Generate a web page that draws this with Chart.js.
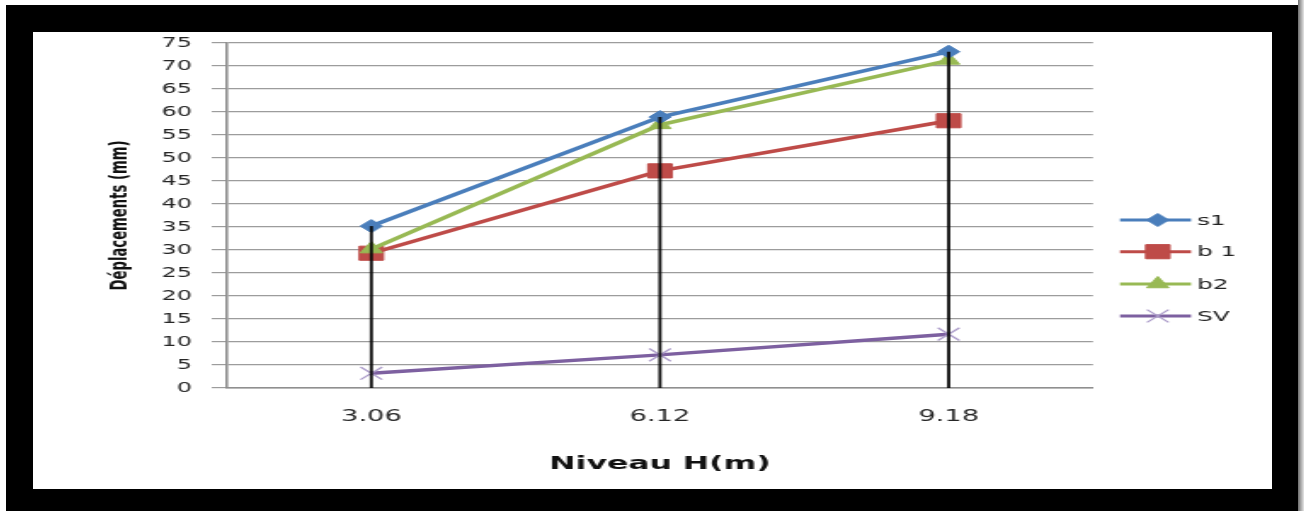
<!DOCTYPE html>
<html>
<head>
<meta charset="utf-8">
<script src="https://cdn.jsdelivr.net/npm/chart.js@4.4.1/dist/chart.umd.min.js"></script>
<style>
  html, body { margin: 0; padding: 0; background: #fff; width: 1304px; height: 511px; overflow: hidden; }
  #frame { position: absolute; left: 6px; top: 5px; width: 1292px; height: 506px; background: #000; }
  #edge { position: absolute; left: 1298px; top: 0; width: 6px; height: 511px; background: linear-gradient(to right, #6e6e6e, #e6e6e6); }
  #panel { position: absolute; left: 33px; top: 32px; width: 1239px; height: 457px; background: #fff; overflow: hidden; }
  #stretch { position: absolute; left: 0; top: 0; width: 728px; height: 457px; transform-origin: 0 0; transform: scaleX(1.70192); }
</style>
</head>
<body>
<div id="frame"></div>
<div id="edge"></div>
<div id="panel"><div id="stretch"><canvas id="c" width="728" height="457"></canvas></div></div>
<script>
// Storey levels (m) and lateral displacements (mm) per structural variant
const categories = ['3.06', '6.12', '9.18'];
const s1 = [35.2, 58.9, 73.1];
const b1 = [29.3, 47.2, 58.1];
const b2 = [30.2, 57.2, 71.2];
const sv = [3.2, 7.2, 11.7];
const seriesNames = ['s1', 'b 1', 'b2', 'SV'];
const yMin = 0, yMax = 75, yStep = 5;
const xTitle = 'Niveau H(m)';
const yTitle = 'Déplacements (mm)';

const BLUE = '#4a7ebb', RED = '#be4b48', GREEN = '#98b954', PURPLE = '#7d60a0';
const FAMILY = '"DejaVu Sans", "Liberation Sans", sans-serif';

// Size the vertical axis title so it runs 150px along the axis
function fitFontSize(text, weight, targetLen) {
  const m = document.createElement('canvas').getContext('2d');
  m.font = weight + ' 20px ' + FAMILY;
  return 20 * targetLen / m.measureText(text).width;
}
const yTitleSize = fitFontSize(yTitle, 'bold', 150);

// Marker shapes drawn the same way in the legend
function drawMarker(ctx, style, x, y, r, fill, stroke, bw) {
  ctx.save();
  ctx.fillStyle = fill; ctx.strokeStyle = stroke; ctx.lineWidth = bw;
  ctx.beginPath();
  if (style === 'rectRot') {
    ctx.moveTo(x - r, y); ctx.lineTo(x, y - r); ctx.lineTo(x + r, y); ctx.lineTo(x, y + r); ctx.closePath();
    ctx.fill(); ctx.stroke();
  } else if (style === 'rect') {
    const s = Math.SQRT1_2 * r;
    ctx.rect(x - s, y - s, 2 * s, 2 * s);
    ctx.fill(); ctx.stroke();
  } else if (style === 'triangle') {
    ctx.moveTo(x, y - r);
    ctx.lineTo(x + r * Math.sin(2 * Math.PI / 3), y - r * Math.cos(2 * Math.PI / 3));
    ctx.lineTo(x + r * Math.sin(4 * Math.PI / 3), y - r * Math.cos(4 * Math.PI / 3));
    ctx.closePath();
    ctx.fill(); ctx.stroke();
  } else if (style === 'crossRot') {
    const o = Math.SQRT1_2 * r;
    ctx.moveTo(x - o, y - o); ctx.lineTo(x + o, y + o);
    ctx.moveTo(x - o, y + o); ctx.lineTo(x + o, y - o);
    ctx.stroke();
  }
  ctx.restore();
}

// Vertical drop lines from the highest point of each level down to the axis
const dropLines = {
  id: 'dropLines',
  afterDatasetsDraw(chart) {
    const { ctx, scales: { x, y } } = chart;
    ctx.save();
    ctx.strokeStyle = '#080808';
    ctx.lineWidth = 1.8;
    categories.forEach((c, i) => {
      const top = Math.max(...chart.data.datasets.map(d => d.data[i]));
      const px = x.getPixelForValue(i);
      ctx.beginPath();
      ctx.moveTo(px, y.getPixelForValue(top));
      ctx.lineTo(px, y.getPixelForValue(0));
      ctx.stroke();
    });
    ctx.restore();
  }
};

// Legend on the right: short line with the series marker, then the name
const sideLegend = {
  id: 'sideLegend',
  afterDraw(chart) {
    const ctx = chart.ctx;
    const x0 = 638.7, x1 = 680.4, xm = 660.9, xt = 684;
    const rows = [188, 219.7, 252, 284];
    ctx.save();
    chart.data.datasets.forEach((ds, k) => {
      const yy = rows[k];
      ctx.strokeStyle = ds.borderColor;
      ctx.lineWidth = 3;
      ctx.beginPath(); ctx.moveTo(x0, yy); ctx.lineTo(x1, yy); ctx.stroke();
      drawMarker(ctx, ds.pointStyle, xm, yy, ds.pointRadius, ds.pointBackgroundColor, ds.pointBorderColor, ds.pointBorderWidth);
      ctx.fillStyle = '#222';
      ctx.font = '14.5px ' + FAMILY;
      ctx.textBaseline = 'middle';
      ctx.textAlign = 'left';
      ctx.fillText(ds.label, xt, yy + 1);
    });
    ctx.restore();
  }
};

Chart.defaults.font.family = FAMILY;

new Chart(document.getElementById('c'), {
  type: 'line',
  data: {
    labels: categories,
    datasets: [
      { label: seriesNames[0], data: s1, order: 0, borderColor: BLUE, backgroundColor: BLUE, borderWidth: 3.5,
        pointStyle: 'rectRot', pointRadius: 6.5, pointBackgroundColor: BLUE, pointBorderColor: BLUE, pointBorderWidth: 1 },
      { label: seriesNames[1], data: b1, order: 2, borderColor: RED, backgroundColor: RED, borderWidth: 3.5,
        pointStyle: 'rect', pointRadius: 10, pointBackgroundColor: RED, pointBorderColor: RED, pointBorderWidth: 1 },
      { label: seriesNames[2], data: b2, order: 1, borderColor: GREEN, backgroundColor: GREEN, borderWidth: 3.5,
        pointStyle: 'triangle', pointRadius: 7.5, pointBackgroundColor: GREEN, pointBorderColor: GREEN, pointBorderWidth: 1 },
      { label: seriesNames[3], data: sv, order: 3, borderColor: PURPLE, backgroundColor: PURPLE, borderWidth: 3.5,
        pointStyle: 'crossRot', pointRadius: 9, pointBackgroundColor: '#b3a4cf', pointBorderColor: '#ab9bc9', pointBorderWidth: 1.3 }
    ]
  },
  options: {
    responsive: false,
    animation: false,
    devicePixelRatio: 1,
    layout: { padding: { left: 40, right: 105.2, top: 11, bottom: 0 } },
    plugins: { legend: { display: false }, tooltip: { enabled: false } },
    elements: { line: { tension: 0 } },
    scales: {
      x: {
        offset: true,
        grid: { display: false, drawTicks: false },
        border: { display: true, color: '#8f8f8f', width: 1.5 },
        ticks: { color: '#262626', font: { family: FAMILY, size: 16 }, padding: 19 },
        title: { display: true, text: xTitle, color: '#111', font: { family: FAMILY, size: 18.5, weight: 'bold' }, padding: { top: 0, bottom: 14 } },
        afterFit(scale) { scale.height = 101; }
      },
      y: {
        min: yMin, max: yMax,
        grid: { color: '#9c9c9c', lineWidth: 1.2, tickLength: 9 },
        border: { display: true, color: '#8c8c8c', width: 1.6 },
        ticks: { stepSize: yStep, color: '#262626', font: { family: FAMILY, size: 14 }, padding: 11.6 },
        title: { display: true, text: yTitle, color: '#111', font: { family: FAMILY, size: yTitleSize, weight: 'bold' }, padding: { top: 4, bottom: 0 } },
        afterFit(scale) { scale.width = 74; scale.paddingTop = 8; scale.paddingBottom = 8; }
      }
    }
  },
  plugins: [dropLines, sideLegend]
});
</script>
</body>
</html>
